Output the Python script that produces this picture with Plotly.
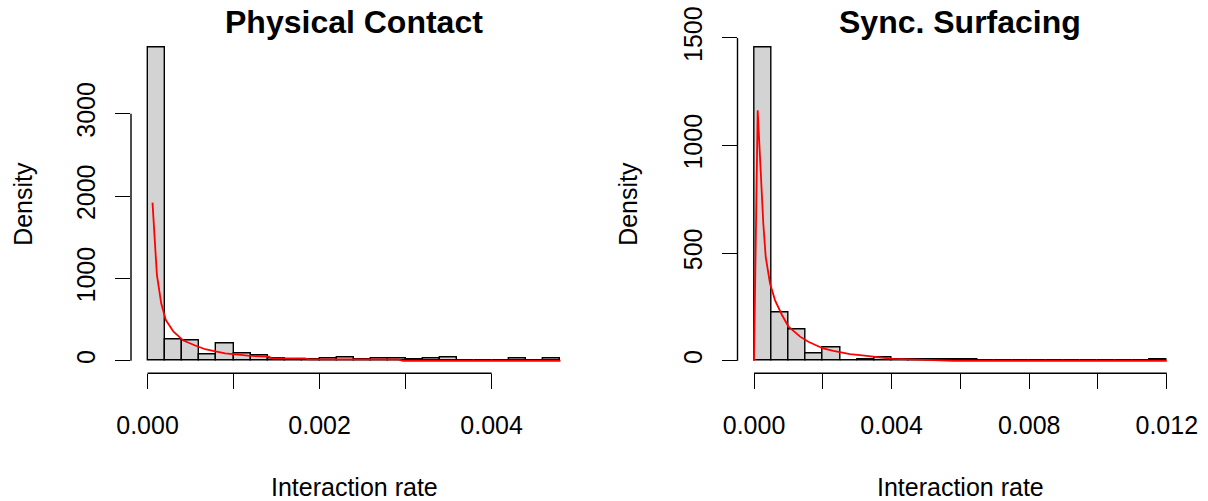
import plotly.graph_objects as go

# ---------------- data ----------------
# Physical Contact histogram (bin width 0.0002, from 0 to 0.0048)
pc_bin_start = 0.0
pc_bin_width = 0.0002
pc_density = [3810, 264, 243, 81, 207, 93, 69, 24, 12, 12, 24, 36,
              12, 24, 24, 12, 24, 40, 0, 0, 0, 24, 0, 24]
pc_curve_x = [0.000058, 0.000109, 0.000159, 0.000213, 0.000302, 0.000418,
              0.000554, 0.00067, 0.000748, 0.000902, 0.00102, 0.00117,
              0.00141, 0.00144, 0.00183, 0.00187, 0.00253, 0.00291,
              0.00297, 0.0048]
pc_curve_y = [1920, 1041, 697, 494, 352, 245, 185, 140, 122, 90, 78, 61,
              49, 33, 29, 17, 17, 17, 0, 0]
pc_xticks = [0.000, 0.001, 0.002, 0.003, 0.004]
pc_xticklabels = ["0.000", "", "0.002", "", "0.004"]
pc_yticks = [0, 1000, 2000, 3000]

# Sync. Surfacing histogram (bin width 0.0005, from 0 to 0.012)
ss_bin_start = 0.0
ss_bin_width = 0.0005
ss_density = [1458, 224, 144, 32, 60, 0, 8, 14, 5, 5, 5, 8,
              8, 0, 0, 0, 0, 0, 0, 0, 0, 0, 0, 8]
ss_curve_x = [0.0, 0.000107, 0.000174, 0.00027, 0.00034, 0.000465,
              0.00061, 0.000805, 0.000997, 0.00134, 0.00158, 0.00201,
              0.00231, 0.00279, 0.00308, 0.00357, 0.00405, 0.00521,
              0.0058, 0.012]
ss_curve_y = [0, 1164, 947, 638, 483, 359, 282, 215, 160, 112, 88, 57,
              46, 31, 26, 16, 9, 3, 0, 0]
ss_xticks = [0.000, 0.002, 0.004, 0.006, 0.008, 0.010, 0.012]
ss_xticklabels = ["0.000", "", "0.004", "", "0.008", "", "0.012"]
ss_yticks = [0, 500, 1000, 1500]

titles = ["Physical Contact", "Sync. Surfacing"]
xlab = "Interaction rate"
ylab = "Density"

# ---------------- figure ----------------
W, H = 1208, 501
FONT = "Liberation Sans, Arial, sans-serif"
fig = go.Figure()


def centers(start, width, n):
    return [start + width * (i + 0.5) for i in range(n)]


def r_range(lo, hi):
    pad = (hi - lo) * 0.04
    return [lo - pad, hi + pad]


panels = [
    dict(start=pc_bin_start, width=pc_bin_width, dens=pc_density,
         cx=pc_curve_x, cy=pc_curve_y, xt=pc_xticks, xtl=pc_xticklabels,
         yt=pc_yticks, xa="x", ya="y", dom=[131 / W, 577 / W]),
    dict(start=ss_bin_start, width=ss_bin_width, dens=ss_density,
         cx=ss_curve_x, cy=ss_curve_y, xt=ss_xticks, xtl=ss_xticklabels,
         yt=ss_yticks, xa="x2", ya="y2", dom=[737.5 / W, 1183.3 / W]),
]

ydom = [(H - 373.3) / H, (H - 34.4) / H]

for i, p in enumerate(panels):
    n = len(p["dens"])
    fig.add_trace(go.Bar(
        x=centers(p["start"], p["width"], n), y=p["dens"], width=p["width"],
        marker=dict(color="#D3D3D3", line=dict(color="black", width=1.4)),
        xaxis=p["xa"], yaxis=p["ya"], showlegend=False, hoverinfo="skip"))
    fig.add_trace(go.Scatter(
        x=p["cx"], y=p["cy"], mode="lines",
        line=dict(color="#FF0000", width=1.8),
        xaxis=p["xa"], yaxis=p["ya"], showlegend=False, hoverinfo="skip"))

    xmax = p["start"] + p["width"] * n
    ymax = max(p["dens"])
    sfx = "" if i == 0 else "2"
    axis_common = dict(showgrid=False, zeroline=False, showline=False,
                       ticks="outside", ticklen=15, tickwidth=1.4,
                       tickcolor="black",
                       tickfont=dict(family=FONT, size=25, color="black"),
                       automargin=False, fixedrange=True)
    fig.update_layout(**{
        "xaxis" + sfx: dict(domain=p["dom"], range=r_range(p["start"], xmax),
                            anchor="y" + sfx, tickmode="array",
                            tickvals=p["xt"], ticktext=p["xtl"],
                            ticklabelstandoff=15, **axis_common),
        "yaxis" + sfx: dict(domain=ydom, range=r_range(0, ymax),
                            anchor="x" + sfx, tickmode="array",
                            tickvals=p["yt"],
                            ticktext=[str(v) for v in p["yt"]],
                            tickangle=-90, ticklabelstandoff=10,
                            **axis_common),
    })
    # R-style axis lines spanning first to last tick only
    fig.add_shape(type="line", xref=p["xa"], yref=p["ya"] + " domain",
                  x0=p["xt"][0], x1=p["xt"][-1], y0=0, y1=0,
                  line=dict(color="black", width=1.4))
    fig.add_shape(type="line", xref=p["xa"] + " domain", yref=p["ya"],
                  x0=0, x1=0, y0=p["yt"][0], y1=p["yt"][-1],
                  line=dict(color="black", width=1.4))

    cx = (p["dom"][0] + p["dom"][1]) / 2
    fig.add_annotation(text="<b>" + titles[i] + "</b>", x=cx, y=1 - 22 / H,
                       xref="paper", yref="paper", showarrow=False,
                       xanchor="center", yanchor="middle",
                       font=dict(family=FONT, size=32, color="black"))
    fig.add_annotation(text=xlab, x=cx, y=1 - 487 / H,
                       xref="paper", yref="paper", showarrow=False,
                       xanchor="center", yanchor="middle",
                       font=dict(family=FONT, size=25, color="black"))
    ylab_x = 23 if i == 0 else 628
    fig.add_annotation(text=ylab, x=ylab_x / W, y=(ydom[0] + ydom[1]) / 2,
                       xref="paper", yref="paper", showarrow=False,
                       textangle=-90, xanchor="center", yanchor="middle",
                       font=dict(family=FONT, size=25, color="black"))

fig.update_layout(width=W, height=H, margin=dict(l=0, r=0, t=0, b=0),
                  paper_bgcolor="white", plot_bgcolor="white",
                  bargap=0, barmode="overlay", showlegend=False)

fig.write_html("out.html", config={"displayModeBar": False},
               post_script="document.body.style.margin='0';"
                           "document.body.style.overflow='hidden';")
